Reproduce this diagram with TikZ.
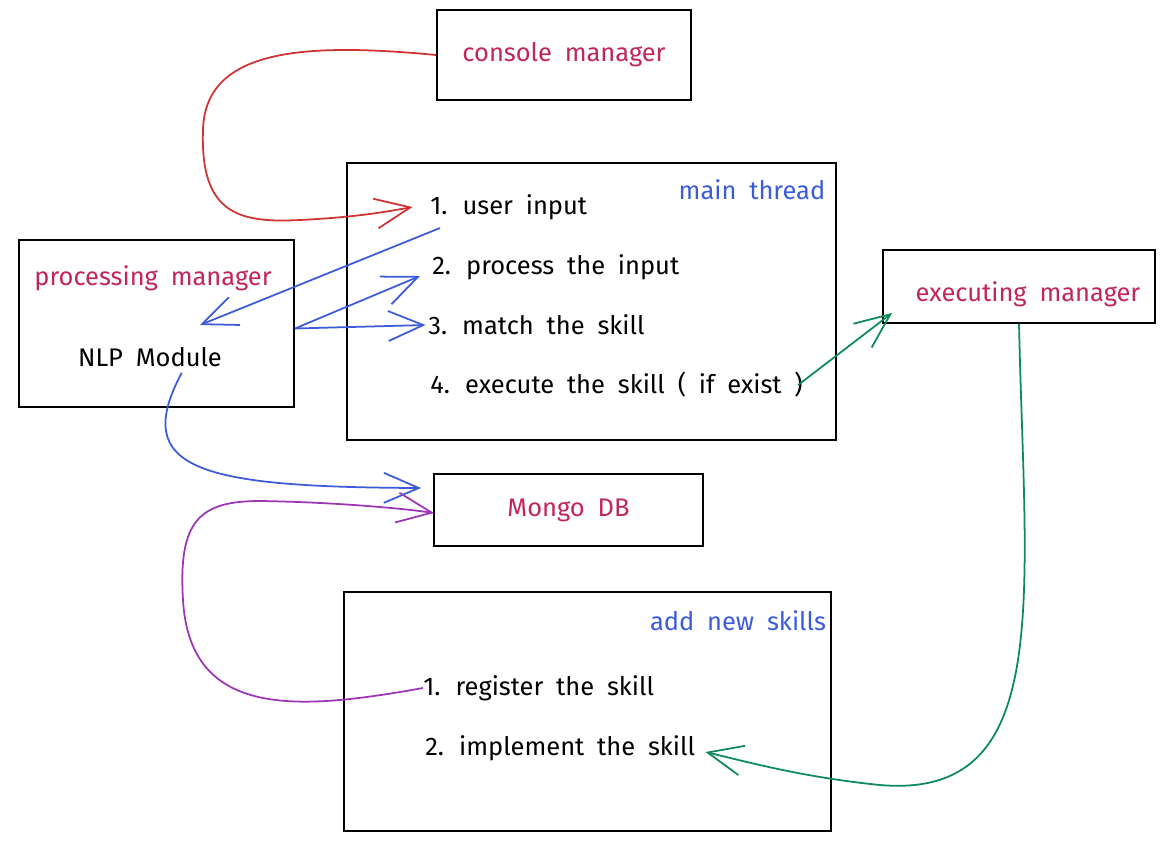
\documentclass[tikz,border=0pt]{standalone}
\usepackage{fontspec}
\setmainfont{Fira Sans}[WordSpace=1.9]
\usetikzlibrary{arrows.meta}
\definecolor{crimson}{HTML}{C2255C}
\definecolor{indigo}{HTML}{3B5BDB}
\definecolor{redline}{HTML}{D03232}
\definecolor{greenline}{HTML}{0C8A5A}
\definecolor{purpleline}{HTML}{9C36B5}
\tikzstyle{box} = [rectangle, draw=black, line width=1.1pt, inner sep=0pt, text=crimson, font=\fontsize{14.5}{16}\selectfont]
\tikzstyle{title} = [text=crimson, font=\fontsize{14.5}{16}\selectfont]
\tikzstyle{tag} = [text=indigo, font=\fontsize{14.5}{16}\selectfont]
\tikzstyle{item} = [anchor=west, inner sep=0pt, font=\fontsize{14.5}{16}\selectfont]
\tikzstyle{arrow} = [line width=1pt, -{Straight Barb[length=7mm,width=6mm]}]

\begin{document}
\begin{tikzpicture}[x=0.02cm, y=-0.02cm]
\useasboundingbox (0,0) rectangle (1162,843);

\node (console manager) [box, minimum width=5.08cm, minimum height=1.8cm] at (564,55) {console manager};
\node (main thread) [box, minimum width=9.78cm, minimum height=5.54cm] at (591.5,301.5) {};
\node (processing manager) [box, minimum width=5.5cm, minimum height=3.34cm] at (156.5,323.5) {};
\node (executing manager) [box, minimum width=5.44cm, minimum height=1.46cm] at (1019,286.5) {};
\node (mongo db) [box, minimum width=5.38cm, minimum height=1.44cm] at (568.5,510) {Mongo DB};
\node (add skills) [box, minimum width=9.74cm, minimum height=4.78cm] at (587.5,711.5) {};

% labels inside the boxes
\node (main label) [tag] at (752,190) {main thread};
\node (user input) [item] at (430,207) {1. user input};
\node (process input) [item] at (432,267) {2. process the input};
\node (match skill) [item] at (428,325) {3. match the skill};
\node (execute skill) [item] at (430,385) {4. execute the skill ( if exist )};

\node (processing label) [title] at (153,278) {processing manager};
\node (nlp module) at (150,357) [font=\fontsize{14.5}{16}\selectfont] {NLP Module};

\node (executing label) [title] at (1028,294) {executing manager};

\node (skills label) [tag] at (738,621) {add new skills};
\node (register skill) [item] at (423,688) {1. register the skill};
\node (implement skill) [item] at (425,748) {2. implement the skill};

\coordinate (nlp in) at (200,325);

% connectors
\draw [arrow, redline] (console manager.west) .. controls (300,42) and (205,50) .. (203,130)
  .. controls (200,215) and (240,223) .. (300,220) .. controls (360,217) and (390,211) .. ([xshift=-3.5mm]user input.west);
\draw [arrow, indigo] ([shift={(10,8)}]user input.south west) -- (nlp in);
\draw [arrow, indigo] ([yshift=-1mm]processing manager.east) -- ([shift={(-12,9)}]process input.west);
\draw [arrow, indigo] ([yshift=-1mm]processing manager.east) -- ([xshift=-0.5mm]match skill.west);
\draw [arrow, greenline] ([xshift=-1mm]execute skill.east) -- ([shift={(10,-11)}]executing manager.south west);
\draw [arrow, greenline] (executing manager.south) .. controls (1025,600) and (1055,800) .. (880,785)
  .. controls (800,777) and (740,760) .. ([shift={(10,4)}]implement skill.east);
\draw [arrow, indigo] ([xshift=18]nlp module.south) .. controls (130,470) and (200,487) .. ([shift={(-12,-22)}]mongo db.west);
\draw [arrow, purpleline] (register skill.west) .. controls (300,710) and (190,720) .. (183,600)
  .. controls (178,520) and (200,501) .. (260,501) .. controls (330,502) and (400,508) .. ([shift={(1,3)}]mongo db.west);

\end{tikzpicture}
\end{document}
